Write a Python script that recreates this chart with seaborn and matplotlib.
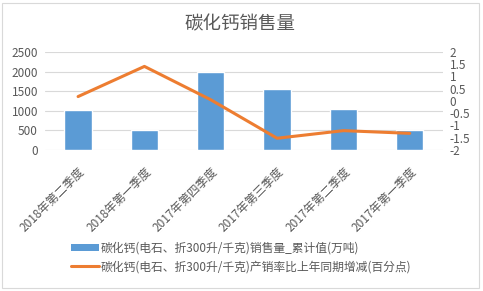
import matplotlib
matplotlib.use("Agg")
import matplotlib.pyplot as plt
import seaborn as sns
import numpy as np
from matplotlib.patches import Rectangle
from matplotlib.lines import Line2D
from matplotlib.ticker import FuncFormatter, MultipleLocator

categories = ["2018年第二季度", "2018年第一季度", "2017年第四季度",
              "2017年第三季度", "2017年第二季度", "2017年第一季度"]
sales = [1020, 510, 1990, 1556, 1046, 510]
rate_change = [0.18, 1.41, 0.05, -1.52, -1.21, -1.32]
bar_label = "碳化钙(电石、折300升/千克)销售量_累计值(万吨)"
line_label = "碳化钙(电石、折300升/千克)产销率比上年同期增减(百分点)"
title = "碳化钙销售量"

sns.set_theme(style="white")
plt.rcParams['font.family'] = ['Noto Sans CJK SC', 'DejaVu Sans']
plt.rcParams['axes.unicode_minus'] = False

bar_color = "#5B9BD5"
line_color = "#ED7D31"
text_color = "#595959"

fig = plt.figure(figsize=(4.83, 2.91), dpi=100)
fig.patches.append(Rectangle((0.004, 0.012), 0.988, 0.978, transform=fig.transFigure,
                             fill=False, edgecolor="#D9D9D9", linewidth=0.8))
ax = fig.add_axes([0.093, 0.4845, 0.824, 0.337])
sns.barplot(x=categories, y=sales, ax=ax, color=bar_color, width=0.41,
            saturation=1, order=categories)
ax.set_ylim(0, 2500)
ax.set_xlim(-0.5, 5.5)
ax.yaxis.set_major_locator(MultipleLocator(500))
ax.grid(axis='y', color="#D9D9D9", linewidth=0.8)
ax.set_axisbelow(True)
for s in ax.spines.values():
    s.set_visible(False)
ax.tick_params(axis='y', length=0, labelsize=8.5, labelcolor=text_color, pad=5)
ax.tick_params(axis='x', length=0, labelsize=8.5, labelcolor=text_color, pad=11)
plt.setp(ax.get_xticklabels(), rotation=45, ha='right', rotation_mode='anchor')

ax2 = ax.twinx()
sns.lineplot(x=np.arange(len(categories)), y=rate_change, ax=ax2, color=line_color,
             linewidth=2.2, sort=False)
ax2.set_ylim(-2, 2)
ax2.set_xlim(-0.5, 5.5)
ax2.yaxis.set_major_locator(MultipleLocator(0.5))
ax2.yaxis.set_major_formatter(FuncFormatter(lambda v, p: f"{v:g}"))
for s in ax2.spines.values():
    s.set_visible(False)
ax2.tick_params(axis='y', length=0, labelsize=8.5, labelcolor=text_color, pad=5)
ax2.grid(False)

fig.text(0.497, 0.915, title, ha='center', va='center', fontsize=13.3, color=text_color)

handles = [Rectangle((0, 0), 1, 1, facecolor=bar_color, edgecolor='none'),
           Line2D([0], [0], color=line_color, linewidth=2.2)]
leg = fig.legend(handles, [bar_label, line_label], loc='center', bbox_to_anchor=(0.5, 0.115),
                 ncol=1, frameon=False, fontsize=8.5, handlelength=2.3, handleheight=0.5,
                 handletextpad=0.2, labelspacing=0.45, labelcolor=text_color)

fig.savefig("out.png", dpi=100)
